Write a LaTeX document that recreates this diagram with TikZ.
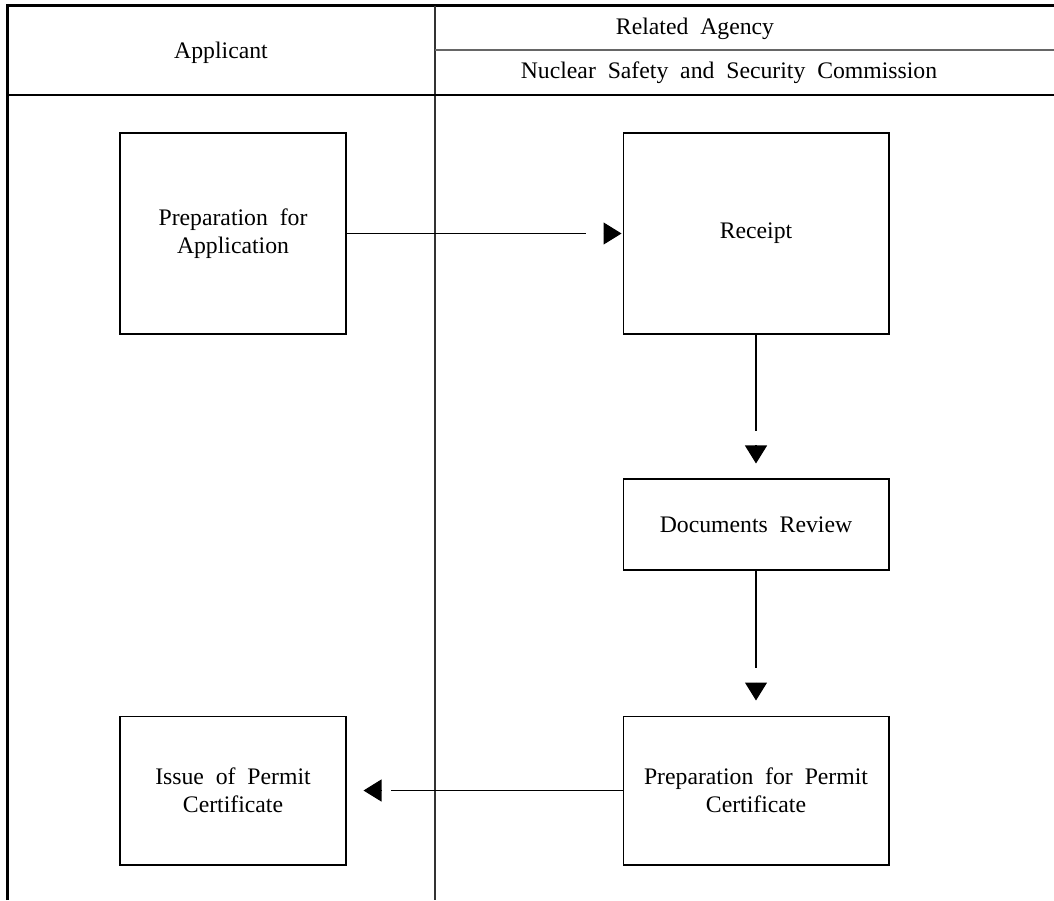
\documentclass[tikz,border=0pt]{standalone}
\usepackage{fontspec}
\setmainfont{Liberation Serif}
\usepackage{tikz}
\usetikzlibrary{arrows.meta}
\newcommand\boxfont{\fontsize{13.5}{16}\selectfont\spaceskip=0.5em plus 0.1em\relax}
\tikzset{
    tnode/.style = {align=center, inner sep=0pt, text centered, font=\boxfont},
    procbox/.style = {tnode, rectangle, draw=black, line width=0.6pt},
    wide/.style = {minimum width=5.32cm},
    narrow/.style = {minimum width=4.52cm},
    frame/.style = {line width=1.7pt},
    rule/.style = {line width=0.6pt},
    head/.style = {line width=0.6pt, -{Triangle[length=0.36cm, width=0.44cm]}}
}
\begin{document}
\begin{tikzpicture}[x=0.02cm, y=-0.02cm]
    \useasboundingbox (0,0) rectangle (1054,900);
    % table frame and headers
    \draw[frame] (7.5,900) -- (7.5,5.7) -- (1054,5.7);
    \draw[rule, black!80] (435,5.7) -- (435,900);
    \draw[rule, black!60] (435,50) -- (1054,50);
    \draw[rule] (7.5,95) -- (1054,95);
    \node[tnode] (applicant) at (221,52.5) {Applicant};
    \node[tnode] (agency) at (695,29) {Related Agency};
    \node[tnode] (nssc) at (729,73) {Nuclear Safety and Security Commission};
    % process boxes
    \node[procbox, narrow, minimum height=4.02cm] (prepapp) at (233,233.5) {Preparation for\\Application};
    \node[procbox, wide, minimum height=4.02cm] (receipt) at (756,233.5) {Receipt};
    \node[procbox, wide, minimum height=1.82cm] (review) at (756,524.5) {Documents Review};
    \node[procbox, wide, minimum height=2.98cm] (preppermit) at (756,790.5) {Preparation for Permit\\Certificate};
    \node[procbox, narrow, minimum height=2.98cm] (issue) at (233,790.5) {Issue of Permit\\Certificate};
    % flow, line and head drawn apart
    \draw[rule] (prepapp.east) -- ([xshift=-0.74cm]receipt.west);
    \draw[head] ([xshift=-0.38cm]receipt.west) -- ([xshift=-0.02cm]receipt.west);
    \draw[rule] (receipt.south) -- ([yshift=0.96cm]review.north);
    \draw[head] ([yshift=0.66cm]review.north) -- ([yshift=0.3cm]review.north);
    \draw[rule] (review.south) -- ([yshift=0.96cm]preppermit.north);
    \draw[head] ([yshift=0.66cm]preppermit.north) -- ([yshift=0.3cm]preppermit.north);
    \draw[rule] (preppermit.west) -- ([xshift=0.88cm]issue.east);
    \draw[head] ([xshift=0.7cm]issue.east) -- ([xshift=0.34cm]issue.east);
\end{tikzpicture}
\end{document}
